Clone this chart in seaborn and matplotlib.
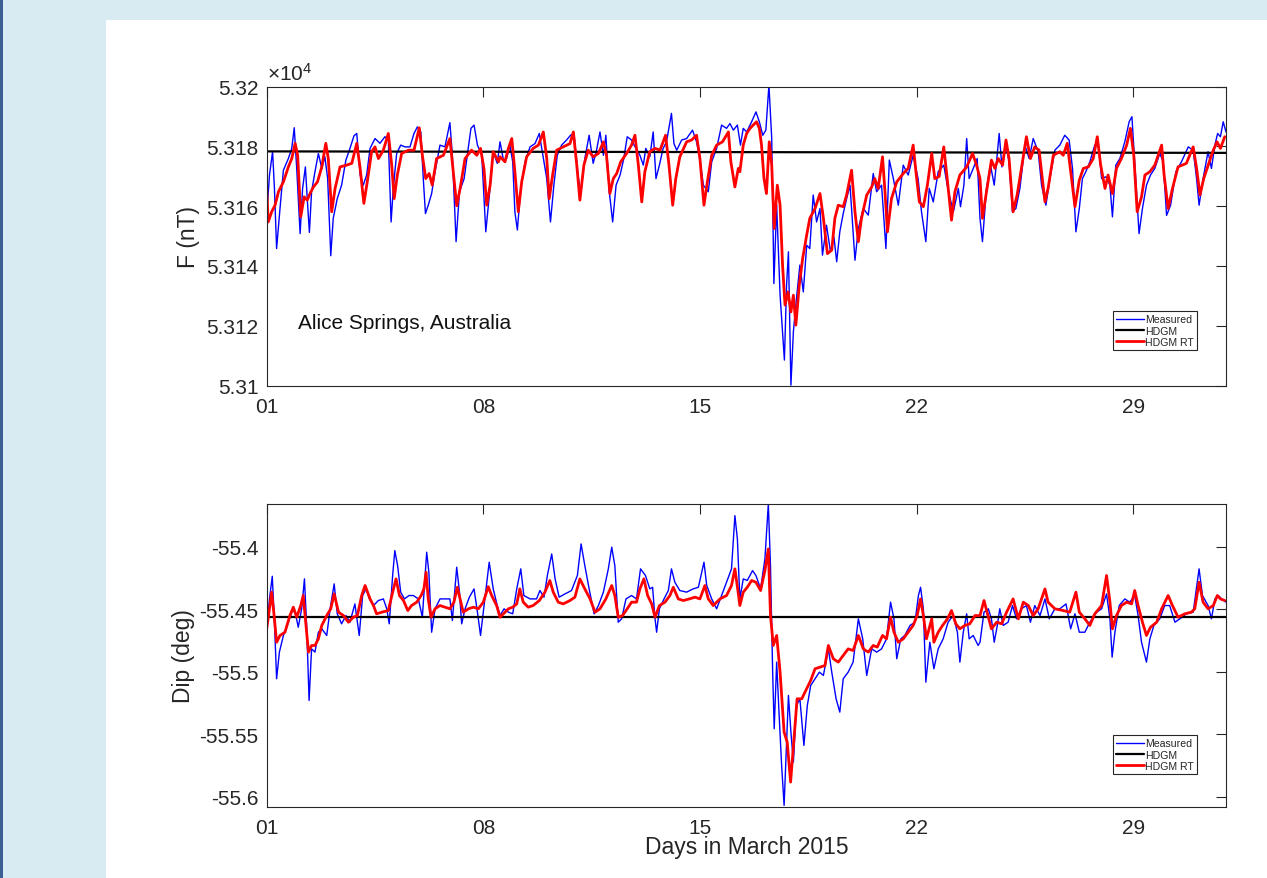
import matplotlib
matplotlib.use("Agg")
import matplotlib.pyplot as plt
from matplotlib.patches import Rectangle
from matplotlib.ticker import FixedLocator, FuncFormatter
import seaborn as sns

# ---------------- data (day of March 2015, value) ----------------
f_measured = [
(1.00,53157.0),(1.09,53170.4),(1.19,53178.2),(1.25,53165.9),(1.32,53145.8),(1.43,53159.2),(1.54,53172.0),(1.70,53175.9),(1.81,53179.3),(1.89,53186.2),(1.97,53172.6),(2.08,53150.8),(2.16,53165.9),(2.25,53173.1),(2.31,53162.5),(2.38,53151.2),(2.45,53164.8),(2.56,53171.5),(2.67,53177.6),(2.78,53172.6),(2.88,53176.5),(2.97,53169.2),(3.07,53143.4),(3.15,53155.9),(3.28,53162.5),(3.42,53167.0),(3.56,53175.4),(3.69,53179.3),(3.82,53183.5),(3.91,53184.3),(4.02,53170.4),(4.12,53167.0),(4.23,53170.4),(4.34,53179.3),(4.50,53182.6),(4.66,53181.0),(4.82,53183.2),(4.93,53182.1),(5.02,53154.7),(5.09,53165.9),(5.20,53177.6),(5.33,53180.4),(5.47,53179.8),(5.63,53179.8),(5.76,53184.3),(5.87,53186.5),(5.98,53184.8),(6.06,53169.2),(6.13,53157.5),(6.22,53160.3),(6.33,53164.2),(6.44,53171.5),(6.60,53180.4),(6.76,53179.8),(6.92,53187.9),(7.00,53177.0),(7.12,53148.1),(7.23,53164.8),(7.38,53169.2),(7.52,53179.8),(7.60,53186.0),(7.70,53187.1),(7.81,53180.4),(7.95,53177.0),(8.08,53151.4),(8.19,53163.1),(8.32,53178.2),(8.45,53174.3),
(8.54,53181.5),(8.65,53175.4),(8.75,53175.9),(8.86,53180.4),(8.95,53174.8),(9.02,53158.1),(9.10,53152.0),(9.21,53165.9),(9.35,53174.8),(9.51,53179.8),(9.67,53180.9),(9.81,53184.3),(9.88,53179.8),(10.05,53169.2),(10.17,53154.7),(10.28,53167.0),(10.39,53177.0),(10.53,53180.4),(10.69,53182.1),(10.82,53183.7),(10.93,53184.3),(11.04,53172.6),(11.14,53163.7),(11.28,53175.9),(11.42,53183.7),(11.55,53174.3),(11.66,53178.7),(11.77,53184.8),(11.88,53177.0),(11.96,53183.7),(12.07,53164.8),(12.18,53154.7),(12.29,53167.0),(12.42,53170.4),(12.54,53175.9),(12.65,53183.2),(12.79,53182.1),(12.93,53179.3),(13.06,53177.0),(13.17,53173.7),(13.25,53179.3),(13.38,53176.5),(13.49,53184.8),(13.58,53169.2),(13.69,53173.7),(13.81,53179.3),(13.92,53181.5),(14.08,53191.0),(14.16,53180.9),(14.25,53178.7),(14.41,53182.1),(14.57,53182.6),(14.76,53185.4),(14.89,53181.5),(15.00,53175.9),(15.11,53167.0),(15.27,53164.8),(15.38,53174.8),(15.54,53179.3),(15.70,53187.1),(15.86,53186.0),(15.97,53187.6),(16.08,53185.4),(16.21,53187.1),(16.31,53180.4),
(16.40,53186.0),(16.51,53184.8),(16.67,53188.2),(16.81,53191.5),(16.92,53188.2),(17.03,53183.7),(17.13,53185.4),(17.23,53200.5),(17.32,53182.6),(17.39,53134.1),(17.48,53160.3),(17.59,53130.2),(17.73,53108.5),(17.80,53133.6),(17.86,53144.7),(17.94,53100.1),(18.02,53118.0),(18.12,53129.1),(18.23,53140.3),(18.34,53131.3),(18.45,53146.9),(18.55,53145.8),(18.66,53163.7),(18.77,53154.7),(18.88,53159.2),(18.96,53143.6),(19.09,53153.6),(19.22,53144.7),(19.33,53149.7),(19.42,53141.4),(19.52,53151.4),(19.63,53157.5),(19.74,53162.5),(19.85,53167.0),(20.01,53141.9),(20.12,53152.5),(20.28,53159.2),(20.44,53157.0),(20.60,53170.9),(20.71,53164.8),(20.87,53167.0),(21.01,53145.8),(21.12,53175.4),(21.25,53169.2),(21.41,53160.3),(21.57,53173.7),(21.73,53170.4),(21.89,53177.0),(22.05,53169.2),(22.16,53158.1),(22.30,53148.1),(22.41,53165.9),(22.54,53161.4),(22.70,53171.5),(22.88,53173.7),(23.02,53165.3),(23.19,53158.1),(23.35,53165.9),(23.42,53159.8),(23.53,53167.0),(23.62,53182.6),(23.70,53169.2),(23.83,53172.6),(23.96,53175.9),
(24.05,53155.9),(24.13,53148.1),(24.26,53165.9),(24.39,53173.7),(24.51,53167.0),(24.59,53175.4),(24.67,53184.3),(24.76,53173.1),(24.89,53180.4),(24.99,53174.8),(25.10,53158.1),(25.21,53159.2),(25.34,53165.9),(25.50,53180.4),(25.64,53175.9),(25.77,53182.6),(25.93,53178.2),(26.04,53167.0),(26.18,53160.3),(26.31,53169.2),(26.47,53178.7),(26.63,53180.4),(26.79,53183.7),(26.93,53182.1),(27.04,53172.6),(27.15,53151.4),(27.26,53159.2),(27.36,53169.2),(27.47,53171.5),(27.60,53174.8),(27.76,53180.4),(27.87,53181.5),(27.98,53169.2),(28.12,53169.8),(28.25,53167.0),(28.33,53156.4),(28.44,53173.7),(28.57,53175.9),(28.73,53181.5),(28.87,53188.2),(28.96,53189.9),(29.05,53174.8),(29.19,53150.8),(29.30,53159.2),(29.43,53167.0),(29.56,53170.4),(29.70,53172.6),(29.86,53177.6),(29.97,53174.8),(30.08,53156.9),(30.21,53160.3),(30.38,53171.5),(30.56,53174.8),(30.78,53179.8),(30.94,53178.7),(31.05,53169.2),(31.13,53160.3),(31.26,53169.2),(31.42,53178.2),(31.53,53172.6),(31.64,53180.4),(31.73,53184.3),(31.82,53183.2),(31.91,53188.2),(32.00,53184.8),
]

f_hdgm = [(1.0, 53178.3), (32.0, 53177.8)]

f_hdgm_rt = [
(1.00,53165.9),(1.05,53154.7),(1.16,53158.1),(1.27,53160.3),(1.38,53164.8),(1.54,53168.1),(1.70,53173.1),(1.81,53175.9),(1.92,53181.0),(2.00,53177.0),(2.10,53156.4),(2.21,53163.1),(2.31,53162.0),(2.40,53164.2),(2.51,53166.4),(2.64,53168.1),(2.78,53173.1),(2.91,53181.0),(2.99,53175.9),(3.10,53158.1),(3.21,53165.9),(3.37,53173.1),(3.58,53173.7),(3.75,53174.3),(3.91,53181.0),(4.02,53172.6),(4.14,53160.9),(4.25,53168.1),(4.39,53178.2),(4.50,53179.8),(4.61,53175.9),(4.77,53178.7),(4.93,53184.3),(5.04,53173.7),(5.12,53162.5),(5.22,53170.3),(5.36,53177.6),(5.58,53178.7),(5.76,53178.7),(5.93,53186.2),(6.03,53177.0),(6.14,53169.2),(6.25,53170.9),(6.35,53167.0),(6.49,53175.9),(6.71,53177.0),(6.92,53182.6),(7.03,53171.5),(7.14,53160.1),(7.25,53165.9),(7.41,53175.9),(7.62,53178.7),(7.79,53177.0),(7.91,53179.3),(8.02,53172.6),(8.11,53160.3),(8.22,53167.0),(8.32,53178.2),(8.49,53174.8),
(8.54,53176.5),(8.70,53174.8),(8.81,53179.3),(8.92,53182.6),(9.02,53171.5),(9.13,53158.1),(9.24,53168.1),(9.40,53176.5),(9.61,53179.3),(9.78,53180.4),(9.94,53184.8),(10.05,53175.9),(10.13,53162.5),(10.24,53170.4),(10.37,53178.7),(10.58,53179.8),(10.80,53180.9),(10.91,53184.8),(11.02,53173.7),(11.12,53162.0),(11.25,53173.7),(11.39,53178.7),(11.55,53176.5),(11.72,53177.6),(11.88,53181.5),(11.98,53177.0),(12.09,53164.2),(12.20,53169.2),(12.31,53170.9),(12.44,53174.8),(12.63,53177.6),(12.79,53180.4),(12.90,53183.7),(13.01,53173.7),(13.12,53161.4),(13.22,53171.5),(13.38,53178.2),(13.55,53179.3),(13.71,53178.7),(13.89,53183.7),(14.00,53173.7),(14.12,53160.3),(14.22,53169.2),(14.35,53176.5),(14.57,53181.5),(14.73,53182.1),(14.89,53183.7),(15.00,53175.9),(15.13,53160.3),(15.24,53168.1),(15.38,53177.0),(15.54,53180.4),(15.73,53181.5),(15.92,53184.8),(16.00,53174.8),(16.13,53166.4),(16.24,53172.6),
(16.29,53171.5),(16.40,53180.4),(16.51,53184.3),(16.62,53186.0),(16.72,53187.1),(16.83,53188.2),(16.92,53186.0),(16.99,53180.4),(17.07,53169.2),(17.15,53164.2),(17.24,53181.5),(17.32,53173.7),(17.40,53152.5),(17.50,53167.0),(17.59,53160.3),(17.67,53140.3),(17.75,53126.9),(17.85,53131.3),(17.94,53124.6),(18.02,53130.2),(18.10,53120.2),(18.21,53133.6),(18.32,53142.5),(18.45,53150.3),(18.55,53155.9),(18.72,53159.2),(18.88,53164.2),(18.99,53155.9),(19.12,53144.1),(19.26,53145.3),(19.36,53155.9),(19.47,53160.3),(19.63,53159.8),(19.74,53163.7),(19.90,53172.0),(20.01,53158.1),(20.12,53148.1),(20.22,53155.9),(20.39,53163.7),(20.55,53166.4),(20.65,53169.2),(20.76,53165.9),(20.90,53176.5),(20.98,53164.8),(21.06,53151.4),(21.19,53162.5),(21.36,53168.1),(21.57,53170.9),(21.73,53172.6),(21.89,53180.4),(21.98,53171.5),(22.09,53161.4),(22.22,53159.8),(22.35,53167.0),(22.49,53177.6),(22.59,53169.2),(22.73,53169.9),(22.88,53179.8),(22.99,53169.2),(23.13,53155.3),(23.24,53164.8),(23.40,53170.4),(23.62,53173.1),(23.81,53177.6),(23.94,53173.7),
(24.05,53169.2),(24.13,53155.9),(24.26,53164.8),(24.42,53175.4),(24.53,53172.6),(24.64,53175.9),(24.78,53173.7),(24.89,53182.1),(24.99,53175.9),(25.12,53158.1),(25.25,53163.7),(25.39,53172.6),(25.55,53183.2),(25.68,53175.9),(25.82,53179.8),(25.96,53178.7),(26.07,53168.7),(26.15,53161.4),(26.25,53165.9),(26.42,53177.0),(26.63,53178.2),(26.74,53177.0),(26.87,53181.0),(27.01,53169.2),(27.12,53159.8),(27.26,53168.7),(27.39,53172.6),(27.55,53173.1),(27.71,53175.9),(27.84,53183.2),(27.95,53173.7),(28.09,53165.9),(28.19,53170.4),(28.33,53164.2),(28.46,53172.6),(28.62,53175.9),(28.79,53180.4),(28.91,53186.0),(29.02,53177.0),(29.13,53158.1),(29.27,53163.1),(29.38,53170.4),(29.54,53171.5),(29.70,53173.7),(29.92,53180.4),(30.00,53170.4),(30.13,53159.2),(30.27,53165.9),(30.45,53173.1),(30.72,53174.3),(30.94,53179.8),(31.05,53172.6),(31.16,53163.7),(31.28,53169.2),(31.46,53174.8),(31.59,53178.7),(31.71,53181.5),(31.82,53179.3),(31.96,53183.2),
]

dip_measured = [
(1.00,-55.4670),(1.09,-55.4418),(1.18,-55.4237),(1.25,-55.4604),(1.32,-55.5056),(1.41,-55.4843),(1.54,-55.4710),(1.70,-55.4604),(1.83,-55.4511),(1.92,-55.4524),(2.02,-55.4644),(2.13,-55.4497),(2.22,-55.4258),(2.29,-55.4630),(2.37,-55.5229),(2.45,-55.4817),(2.56,-55.4843),(2.67,-55.4684),(2.78,-55.4657),(2.94,-55.4710),(3.05,-55.4497),(3.18,-55.4298),(3.28,-55.4537),(3.42,-55.4617),(3.56,-55.4551),(3.69,-55.4604),(3.85,-55.4458),(3.99,-55.4710),(4.10,-55.4391),(4.21,-55.4338),(4.32,-55.4418),(4.45,-55.4471),(4.61,-55.4431),(4.77,-55.4418),(4.88,-55.4497),(4.96,-55.4617),(5.07,-55.4231),(5.14,-55.4032),(5.23,-55.4152),(5.33,-55.4364),(5.45,-55.4418),(5.60,-55.4391),(5.74,-55.4391),(5.90,-55.4418),(6.03,-55.4564),(6.12,-55.4231),(6.17,-55.4045),(6.24,-55.4205),(6.33,-55.4684),(6.44,-55.4497),(6.60,-55.4418),(6.76,-55.4418),(6.92,-55.4418),(7.00,-55.4590),(7.14,-55.4165),(7.23,-55.4364),(7.30,-55.4617),(7.41,-55.4497),(7.55,-55.4404),(7.70,-55.4338),(7.81,-55.4524),(7.91,-55.4710),(8.05,-55.4418),(8.19,-55.4125),(8.32,-55.4338),(8.45,-55.4471),
(8.54,-55.4551),(8.67,-55.4497),(8.81,-55.4524),(8.95,-55.4537),(9.08,-55.4338),(9.21,-55.4178),(9.31,-55.4391),(9.51,-55.4418),(9.72,-55.4418),(9.83,-55.4351),(9.96,-55.4404),(10.07,-55.4231),(10.21,-55.4059),(10.32,-55.4258),(10.45,-55.4404),(10.64,-55.4378),(10.85,-55.4351),(11.04,-55.4231),(11.16,-55.3979),(11.28,-55.4152),(11.42,-55.4338),(11.58,-55.4537),(11.72,-55.4471),(11.88,-55.4364),(12.04,-55.4178),(12.15,-55.4005),(12.25,-55.4152),(12.36,-55.4604),(12.47,-55.4577),(12.61,-55.4418),(12.79,-55.4391),(12.95,-55.4418),(13.08,-55.4178),(13.24,-55.4231),(13.38,-55.4338),(13.47,-55.4325),(13.55,-55.4577),(13.60,-55.4684),(13.69,-55.4497),(13.84,-55.4418),(13.98,-55.4351),(14.08,-55.4178),(14.19,-55.4285),(14.35,-55.4351),(14.57,-55.4364),(14.78,-55.4338),(14.95,-55.4325),(15.13,-55.4125),(15.22,-55.4311),(15.38,-55.4418),(15.54,-55.4497),(15.70,-55.4391),(15.86,-55.4285),(16.02,-55.4178),(16.13,-55.3753),(16.21,-55.3939),
(16.29,-55.4418),(16.40,-55.4258),(16.53,-55.4271),(16.70,-55.4192),(16.81,-55.4231),(16.96,-55.4338),(17.10,-55.4098),(17.21,-55.3660),(17.28,-55.4152),(17.35,-55.5003),(17.40,-55.5455),(17.48,-55.4923),(17.56,-55.5349),(17.64,-55.5748),(17.72,-55.6067),(17.80,-55.5562),(17.86,-55.5189),(17.94,-55.5482),(18.02,-55.5721),(18.12,-55.5269),(18.23,-55.5216),(18.36,-55.5588),(18.47,-55.5269),(18.58,-55.5109),(18.72,-55.5056),(18.86,-55.5003),(18.99,-55.5029),(19.15,-55.4817),(19.26,-55.5003),(19.40,-55.5216),(19.52,-55.5322),(19.63,-55.5056),(19.79,-55.5003),(19.95,-55.4923),(20.12,-55.4577),(20.26,-55.4737),(20.39,-55.5029),(20.55,-55.4817),(20.71,-55.4843),(20.87,-55.4817),(21.03,-55.4737),(21.16,-55.4444),(21.27,-55.4577),(21.36,-55.4896),(21.49,-55.4737),(21.62,-55.4710),(21.79,-55.4630),(21.95,-55.4604),(22.06,-55.4391),(22.13,-55.4325),(22.22,-55.4497),(22.30,-55.5083),(22.43,-55.4764),(22.56,-55.4976),(22.70,-55.4817),(22.86,-55.4737),(23.02,-55.4604),(23.18,-55.4551),(23.32,-55.4684),(23.40,-55.4923),(23.51,-55.4684),(23.62,-55.4537),(23.70,-55.4737),(23.83,-55.4710),(23.99,-55.4790),
(24.05,-55.4764),(24.18,-55.4524),(24.32,-55.4497),(24.42,-55.4577),(24.51,-55.4764),(24.61,-55.4630),(24.69,-55.4497),(24.80,-55.4630),(24.96,-55.4604),(25.10,-55.4471),(25.23,-55.4577),(25.39,-55.4497),(25.55,-55.4471),(25.68,-55.4604),(25.82,-55.4471),(25.99,-55.4551),(26.15,-55.4418),(26.29,-55.4577),(26.47,-55.4497),(26.63,-55.4497),(26.83,-55.4458),(26.98,-55.4657),(27.12,-55.4537),(27.26,-55.4684),(27.44,-55.4684),(27.60,-55.4604),(27.82,-55.4524),(27.98,-55.4497),(28.14,-55.4378),(28.25,-55.4577),(28.32,-55.4883),(28.41,-55.4684),(28.55,-55.4471),(28.73,-55.4418),(28.89,-55.4444),(29.05,-55.4391),(29.16,-55.4551),(29.27,-55.4764),(29.43,-55.4923),(29.54,-55.4737),(29.67,-55.4630),(29.86,-55.4577),(30.02,-55.4471),(30.18,-55.4471),(30.35,-55.4604),(30.51,-55.4577),(30.72,-55.4537),(30.94,-55.4524),(31.13,-55.4178),(31.24,-55.4391),(31.42,-55.4471),(31.53,-55.4577),(31.64,-55.4418),(31.75,-55.4391),(31.86,-55.4418),(32.00,-55.4444),
]

dip_hdgm = [(1.0, -55.4564), (32.0, -55.4564)]

dip_hdgm_rt = [
(1.00,-55.4657),(1.09,-55.4497),(1.16,-55.4364),(1.24,-55.4551),(1.32,-55.4764),(1.43,-55.4710),(1.59,-55.4684),(1.75,-55.4551),(1.86,-55.4484),(1.97,-55.4564),(2.10,-55.4471),(2.18,-55.4391),(2.27,-55.4630),(2.35,-55.4843),(2.45,-55.4790),(2.56,-55.4790),(2.67,-55.4737),(2.78,-55.4630),(2.94,-55.4551),(3.07,-55.4497),(3.18,-55.4378),(3.32,-55.4524),(3.48,-55.4551),(3.64,-55.4604),(3.80,-55.4564),(3.93,-55.4551),(4.07,-55.4391),(4.18,-55.4311),(4.34,-55.4418),(4.45,-55.4471),(4.55,-55.4537),(4.72,-55.4524),(4.93,-55.4511),(5.07,-55.4364),(5.18,-55.4258),(5.29,-55.4391),(5.42,-55.4431),(5.56,-55.4511),(5.68,-55.4471),(5.85,-55.4444),(5.99,-55.4391),(6.08,-55.4338),(6.15,-55.4205),(6.22,-55.4418),(6.31,-55.4564),(6.44,-55.4497),(6.60,-55.4471),(6.76,-55.4484),(6.92,-55.4497),(7.05,-55.4444),(7.16,-55.4325),(7.25,-55.4418),(7.35,-55.4524),(7.52,-55.4497),(7.68,-55.4484),(7.84,-55.4497),(8.00,-55.4444),(8.16,-55.4320),(8.27,-55.4391),(8.43,-55.4471),
(8.54,-55.4564),(8.65,-55.4537),(8.81,-55.4497),(8.95,-55.4484),(9.08,-55.4458),(9.18,-55.4338),(9.29,-55.4444),(9.45,-55.4484),(9.61,-55.4471),(9.81,-55.4431),(9.99,-55.4364),(10.15,-55.4271),(10.26,-55.4364),(10.42,-55.4444),(10.58,-55.4458),(10.80,-55.4431),(10.96,-55.4404),(11.12,-55.4258),(11.28,-55.4338),(11.45,-55.4418),(11.61,-55.4524),(11.77,-55.4497),(11.96,-55.4418),(12.15,-55.4311),(12.25,-55.4391),(12.36,-55.4564),(12.50,-55.4551),(12.65,-55.4497),(12.79,-55.4444),(12.95,-55.4444),(13.06,-55.4338),(13.19,-55.4258),(13.31,-55.4391),(13.44,-55.4458),(13.55,-55.4564),(13.69,-55.4471),(13.87,-55.4444),(14.03,-55.4391),(14.14,-55.4325),(14.30,-55.4418),(14.46,-55.4431),(14.66,-55.4418),(14.84,-55.4404),(15.00,-55.4418),(15.16,-55.4311),(15.27,-55.4418),(15.43,-55.4471),(15.65,-55.4418),(15.86,-55.4391),(16.02,-55.4311),(16.13,-55.4178),(16.22,-55.4338),
(16.29,-55.4471),(16.40,-55.4364),(16.53,-55.4325),(16.67,-55.4271),(16.81,-55.4285),(16.96,-55.4351),(17.10,-55.4192),(17.21,-55.4019),(17.28,-55.4551),(17.37,-55.4790),(17.48,-55.4710),(17.59,-55.5003),(17.72,-55.5482),(17.82,-55.5562),(17.93,-55.5881),(18.04,-55.5535),(18.14,-55.5216),(18.29,-55.5216),(18.45,-55.5136),(18.58,-55.5069),(18.72,-55.4976),(18.88,-55.4963),(19.04,-55.4950),(19.15,-55.4790),(19.31,-55.4896),(19.47,-55.4923),(19.63,-55.4870),(19.79,-55.4817),(19.95,-55.4830),(20.12,-55.4710),(20.28,-55.4817),(20.44,-55.4843),(20.60,-55.4790),(20.73,-55.4803),(20.90,-55.4710),(21.03,-55.4737),(21.16,-55.4564),(21.27,-55.4684),(21.41,-55.4764),(21.57,-55.4737),(21.73,-55.4684),(21.89,-55.4630),(22.02,-55.4551),(22.13,-55.4418),(22.22,-55.4551),(22.32,-55.4737),(22.49,-55.4577),(22.56,-55.4764),(22.70,-55.4684),(22.84,-55.4630),(23.00,-55.4577),(23.13,-55.4511),(23.27,-55.4617),(23.40,-55.4657),(23.56,-55.4630),(23.72,-55.4617),(23.89,-55.4551),
(24.05,-55.4551),(24.18,-55.4431),(24.28,-55.4524),(24.42,-55.4657),(24.59,-55.4604),(24.75,-55.4617),(24.91,-55.4524),(25.12,-55.4418),(25.29,-55.4577),(25.45,-55.4444),(25.61,-55.4471),(25.77,-55.4551),(25.93,-55.4497),(26.15,-55.4338),(26.25,-55.4444),(26.47,-55.4497),(26.74,-55.4511),(26.95,-55.4524),(27.15,-55.4364),(27.26,-55.4524),(27.44,-55.4577),(27.60,-55.4630),(27.76,-55.4537),(27.98,-55.4471),(28.14,-55.4231),(28.25,-55.4444),(28.33,-55.4657),(28.46,-55.4551),(28.62,-55.4471),(28.79,-55.4444),(28.95,-55.4458),(29.05,-55.4351),(29.16,-55.4471),(29.30,-55.4604),(29.43,-55.4710),(29.56,-55.4644),(29.76,-55.4604),(29.92,-55.4497),(30.13,-55.4391),(30.27,-55.4471),(30.45,-55.4564),(30.67,-55.4537),(30.88,-55.4524),(30.99,-55.4497),(31.13,-55.4285),(31.26,-55.4444),(31.42,-55.4497),(31.59,-55.4471),(31.72,-55.4391),(31.82,-55.4418),(31.96,-55.4431),
]

x_ticks = [1, 8, 15, 22, 29]
x_tick_labels = ["01", "08", "15", "22", "29"]
f_ticks = [53100, 53120, 53140, 53160, 53180, 53200]
dip_ticks = [-55.6, -55.55, -55.5, -55.45, -55.4]
series_labels = ["Measured", "HDGM", "HDGM RT"]

# ---------------- style ----------------
sns.set_theme(style="white")
plt.rcParams['font.family'] = ['Liberation Sans', 'DejaVu Sans']
plt.rcParams['mathtext.fontset'] = 'custom'
plt.rcParams['mathtext.rm'] = 'Liberation Sans'
plt.rcParams['mathtext.it'] = 'Liberation Sans'

W, H = 1267, 879
INK = '#262626'
fig = plt.figure(figsize=(W / 100, H / 100), dpi=100, facecolor='#d9ebf2')
fig.patches.append(Rectangle((106 / W, 0), (W - 106) / W, (H - 21) / H, transform=fig.transFigure,
                             facecolor='white', edgecolor='none', zorder=-5))
fig.patches.append(Rectangle((0, 0), 2.5 / W, 1, transform=fig.transFigure,
                             facecolor='#3b5f92', edgecolor='none', zorder=-4))

axL, axR = 266.7, 1226.0
ax1 = fig.add_axes([axL / W, 1 - 386.5 / H, (axR - axL) / W, 299 / H])
ax2 = fig.add_axes([axL / W, 1 - 808 / H, (axR - axL) / W, 303 / H])

styles = [dict(color='#0000ff', lw=1.0), dict(color='#000000', lw=1.6), dict(color='#ff0000', lw=2.0)]


def draw(ax, series):
    for (pts, lab, st) in zip(series, series_labels, styles):
        xs = [p[0] for p in pts]
        ys = [p[1] for p in pts]
        sns.lineplot(x=xs, y=ys, ax=ax, estimator=None, sort=False, label=lab, **st)


draw(ax1, [f_measured, f_hdgm, f_hdgm_rt])
draw(ax2, [dip_measured, dip_hdgm, dip_hdgm_rt])

for ax in (ax1, ax2):
    ax.set_xlim(1, 32)
    ax.xaxis.set_major_locator(FixedLocator(x_ticks))
    ax.set_xticklabels(x_tick_labels)
    ax.tick_params(direction='in', length=7, width=0.8, top=True, right=True,
                   labelsize=15, colors=INK)
    ax.tick_params(axis='x', pad=8)
    ax.tick_params(axis='y', pad=6)
    for s in ax.spines.values():
        s.set_color(INK)
        s.set_linewidth(0.8)
    ax.grid(False)
    ax.set_facecolor('white')

ax1.set_ylim(53100, 53200)
ax1.yaxis.set_major_locator(FixedLocator(f_ticks))
ax1.yaxis.set_major_formatter(FuncFormatter(lambda v, p: f"{v / 1e4:.4f}".rstrip('0').rstrip('.')))
ax2.set_ylim(-55.608, -55.366)
ax2.yaxis.set_major_locator(FixedLocator(dip_ticks))
ax2.yaxis.set_major_formatter(FuncFormatter(lambda v, p: f"{v:.2f}".rstrip('0')))

ax1.set_xlabel('')
ax1.set_ylabel('F (nT)', fontsize=16.5, color=INK)
ax1.yaxis.set_label_coords(-0.082, 0.5)
ax1.yaxis.label.set_va('center')
ax2.set_ylabel('Dip (deg)', fontsize=16.5, color=INK)
ax2.yaxis.set_label_coords(-0.087, 0.5)
ax2.yaxis.label.set_va('center')
ax2.set_xlabel('Days in March 2015', fontsize=16.5, color=INK)
ax2.xaxis.set_label_coords(0.5, -0.132)
ax2.xaxis.label.set_va('center')

ax1.text(0.0, 1.008, r'$\times10^{4}$', transform=ax1.transAxes, fontsize=15,
         ha='left', va='bottom', color=INK)
ax1.text(0.0326, 0.212, 'Alice Springs, Australia', transform=ax1.transAxes,
         fontsize=15, ha='left', va='center', color='#111111')

for ax, bot in ((ax1, 0.1187), (ax2, 0.109)):
    h, l = ax.get_legend_handles_labels()
    leg = ax.legend(h, l, loc='lower right', bbox_to_anchor=(0.9698, bot), fontsize=7.6,
                    frameon=True, fancybox=False, edgecolor=INK, framealpha=1,
                    borderpad=0.3, handlelength=2.6, handletextpad=0.1,
                    labelspacing=0.12, borderaxespad=0)
    leg.get_frame().set_linewidth(0.8)

fig.savefig('out.png', dpi=100, facecolor=fig.get_facecolor())
